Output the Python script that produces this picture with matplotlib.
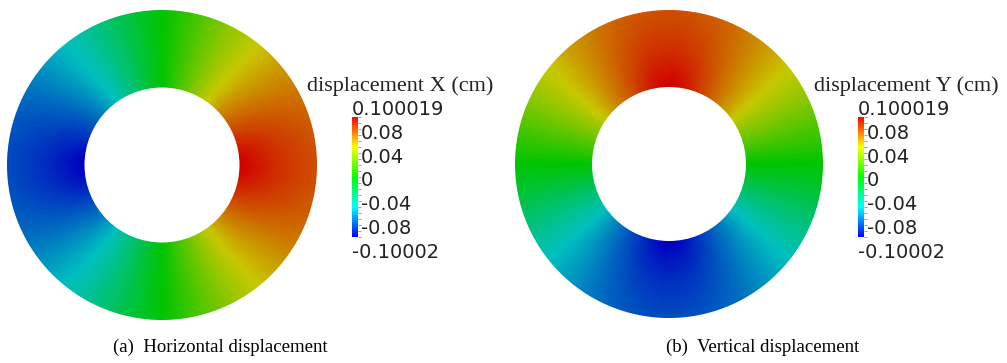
#!/usr/bin/env python3

"""displacement fields on a ring, X and Y components"""

import numpy as np
import matplotlib
matplotlib.use("Agg")
import matplotlib.pyplot as plt
import matplotlib.tri as mtri
from matplotlib.colors import LinearSegmentedColormap, Normalize
from matplotlib.cm import ScalarMappable
from matplotlib.patches import Circle, PathPatch
from matplotlib.path import Path
from matplotlib.transforms import ScaledTranslation

# nodal angles of the ring (deg, counter-clockwise from +x)
angles_deg = list(range(0, 360, 15))

# displacement X (cm) at inner / middle / outer radius
x_inner = [0.100, 0.092, 0.078, 0.062, 0.042, 0.021, 0.0, -0.021, -0.042, -0.062, -0.078, -0.092,
           -0.100, -0.092, -0.078, -0.062, -0.042, -0.021, 0.0, 0.021, 0.042, 0.062, 0.078, 0.092]
x_mid = [0.088, 0.084, 0.073, 0.058, 0.041, 0.021, 0.0, -0.021, -0.041, -0.058, -0.073, -0.084,
         -0.088, -0.084, -0.073, -0.058, -0.041, -0.021, 0.0, 0.021, 0.041, 0.058, 0.073, 0.084]
x_outer = [0.080, 0.077, 0.069, 0.056, 0.040, 0.020, 0.0, -0.020, -0.040, -0.056, -0.069, -0.077,
           -0.080, -0.077, -0.069, -0.056, -0.040, -0.020, 0.0, 0.020, 0.040, 0.056, 0.069, 0.077]

# displacement Y shows the same pattern turned by 90 degrees
y_inner = list(np.roll(x_inner, 6))
y_mid = list(np.roll(x_mid, 6))
y_outer = list(np.roll(x_outer, 6))

vmin, vmax = -0.10002, 0.100019
tick_values = [0.08, 0.04, 0, -0.04, -0.08]
tick_labels = ["0.08", "0.04", "0", "-0.04", "-0.08"]
bar_titles = ["displacement X (cm)", "displacement Y (cm)"]
captions = ["(a)  Horizontal displacement", "(b)  Vertical displacement"]

W, H = 1007, 363

bar_cmap = LinearSegmentedColormap.from_list(
    "rainbow_bar", ["#0000ff", "#00ffff", "#00ff00", "#ffff00", "#ff0000"])
# the rendered surface is lit, so its colours look darker than the bar
ring_cmap = LinearSegmentedColormap.from_list(
    "rainbow_ring", ["#0000c0", "#00c0c0", "#00c400", "#c8c800", "#d20000"])


def fx(px):
    return px / W


def fy(py):
    return 1 - py / H


def draw_ring(ax, inner, mid, outer):
    th = np.deg2rad(angles_deg)
    n = len(th)
    radii = [0.5, 0.75, 1.0 / np.cos(np.pi / n)]
    x = np.concatenate([r * np.cos(th) for r in radii])
    y = np.concatenate([r * np.sin(th) for r in radii])
    v = np.concatenate([inner, mid, outer])
    triangles = []
    for k in range(2):
        for i in range(n):
            j = (i + 1) % n
            a, b, c, d = k * n + i, k * n + j, (k + 1) * n + i, (k + 1) * n + j
            triangles += [[a, b, d], [a, d, c]]
    tri = mtri.Triangulation(x, y, triangles)
    tri_f, v_f = mtri.UniformTriRefiner(tri).refine_field(v, subdiv=3)
    ax.tripcolor(tri_f, v_f, shading="gouraud", cmap=ring_cmap, vmin=vmin, vmax=vmax)

    # hole and outside of the ring
    ax.add_patch(Circle((0, 0), 0.5, fc="white", ec="none", zorder=3))
    t = np.linspace(2 * np.pi, 0, 721)
    circ = np.column_stack([np.cos(t), np.sin(t)])
    sq = [(-1.3, -1.3), (1.3, -1.3), (1.3, 1.3), (-1.3, 1.3), (-1.3, -1.3)]
    verts = np.vstack([sq, circ])
    codes = ([Path.MOVETO] + [Path.LINETO] * 3 + [Path.CLOSEPOLY]
             + [Path.MOVETO] + [Path.LINETO] * (len(circ) - 1))
    ax.add_patch(PathPatch(Path(verts, codes), fc="white", ec="none", zorder=3))
    ax.set_xlim(-1, 1)
    ax.set_ylim(-1, 1)
    ax.axis("off")


def draw_bar(fig, bar_x, title):
    cax = fig.add_axes([fx(bar_x), fy(237), fx(6), 120 / H])
    sm = ScalarMappable(norm=Normalize(vmin, vmax), cmap=bar_cmap)
    cb = fig.colorbar(sm, cax=cax)
    cb.outline.set_visible(False)
    cb.set_ticks(tick_values)
    cb.ax.set_yticks(np.arange(-0.1, 0.1001, 0.01), minor=True)
    cb.ax.tick_params(which="both", length=2, width=0.6, color="0.55",
                      labelright=False, right=True)
    shift = ScaledTranslation(0, -4 / 100, fig.dpi_scale_trans)
    for val, lab in zip(tick_values, tick_labels):
        cax.text(1.5, val, lab, transform=cax.get_yaxis_transform() + shift,
                 ha="left", va="center", fontsize=14, family="DejaVu Sans",
                 color="#222222")
    fig.text(fx(bar_x + 48), fy(86), title, ha="center", va="center",
             fontsize=16, family="Liberation Serif", color="#222222")
    fig.text(fx(bar_x), fy(110), "0.100019", ha="left", va="center",
             fontsize=14, family="DejaVu Sans", color="#222222")
    fig.text(fx(bar_x), fy(252), "-0.10002", ha="left", va="center",
             fontsize=14, family="DejaVu Sans", color="#222222")


def main():
    fig = plt.figure(figsize=(W / 100, H / 100), dpi=100)

    ax1 = fig.add_axes([fx(7), fy(320), fx(310), 310 / H])
    draw_ring(ax1, x_inner, x_mid, x_outer)
    ax2 = fig.add_axes([fx(515), fy(318), fx(308), 308 / H])
    draw_ring(ax2, y_inner, y_mid, y_outer)

    draw_bar(fig, 352, bar_titles[0])
    draw_bar(fig, 858, bar_titles[1])

    fig.text(fx(220), fy(347), captions[0], ha="center", va="center",
             fontsize=13.5, family="Liberation Serif")
    fig.text(fx(763), fy(347), captions[1], ha="center", va="center",
             fontsize=13.5, family="Liberation Serif")

    fig.savefig("out.png", dpi=100, facecolor="white")


if __name__ == "__main__":
    main()
